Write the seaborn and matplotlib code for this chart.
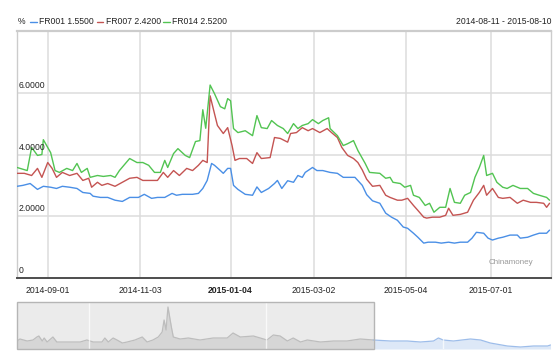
import numpy as np
import pandas as pd
import matplotlib
matplotlib.use('Agg')
import matplotlib.pyplot as plt
import matplotlib.dates as mdates
from matplotlib.lines import Line2D
from matplotlib.patches import Rectangle
import seaborn as sns

# --- data ---
start = pd.Timestamp('2014-08-11')
end = pd.Timestamp('2015-08-10')

# days since 2014-08-11
fr001_day = [0, 4, 9, 14, 18, 23, 27, 31, 36, 41, 45, 50, 52, 57, 62, 67, 72, 77, 83, 87,
             92, 96, 101, 106, 109, 113, 120, 124, 127, 130, 133, 135, 139, 141, 144, 146, 148, 151, 156, 161,
             164, 167, 172, 176, 178, 181, 185, 189, 192, 195, 197, 202, 205, 209, 214, 219, 223, 228, 231, 236,
             239, 243, 248, 252, 256, 260, 264, 267, 271, 274, 278, 281, 286, 290, 295, 299, 303, 308, 311, 314,
             319, 322, 325, 329, 332, 337, 342, 344, 349, 353, 357, 362, 364]
fr001_val = [2.97, 3.0, 3.06, 2.87, 2.97, 2.94, 2.90, 2.97, 2.94, 2.90, 2.77, 2.74, 2.65, 2.61, 2.61, 2.52, 2.48, 2.61, 2.61, 2.71,
             2.58, 2.61, 2.61, 2.74, 2.68, 2.71, 2.71, 2.74, 2.90, 3.16, 3.71, 3.65, 3.48, 3.39, 3.55, 3.55, 3.0, 2.87, 2.71, 2.68,
             2.95, 2.77, 2.90, 3.06, 3.16, 2.90, 3.15, 3.10, 3.32, 3.26, 3.42, 3.58, 3.48, 3.48, 3.42, 3.39, 3.26, 3.26, 3.26, 3.0,
             2.70, 2.50, 2.42, 2.10, 1.97, 1.87, 1.65, 1.61, 1.45, 1.32, 1.13, 1.16, 1.16, 1.13, 1.16, 1.13, 1.16, 1.16, 1.29, 1.48,
             1.45, 1.29, 1.23, 1.29, 1.32, 1.39, 1.39, 1.29, 1.32, 1.39, 1.45, 1.45, 1.55]

fr007_day = [0, 5, 10, 14, 17, 21, 24, 27, 31, 36, 41, 45, 49, 51, 55, 58, 62, 67, 72, 77,
             82, 86, 91, 96, 100, 103, 107, 111, 116, 120, 124, 127, 130, 132, 135, 137, 141, 144, 147, 149,
             152, 157, 161, 164, 167, 173, 176, 180, 185, 187, 191, 195, 199, 202, 207, 212, 215, 219, 222, 226,
             230, 233, 236, 239, 243, 248, 252, 255, 260, 263, 267, 271, 274, 278, 280, 284, 289, 293, 295, 298,
             303, 308, 312, 316, 319, 321, 325, 329, 332, 337, 342, 346, 351, 355, 360, 362, 364]
fr007_val = [3.39, 3.39, 3.32, 3.55, 3.26, 3.74, 3.55, 3.26, 3.42, 3.32, 3.39, 3.16, 3.23, 2.94, 3.10, 3.0, 3.06, 2.97, 3.10, 3.23,
             3.26, 3.16, 3.16, 3.16, 3.42, 3.26, 3.48, 3.32, 3.55, 3.48, 3.65, 3.81, 3.74, 5.90, 5.32, 4.94, 4.68, 4.87, 4.29, 3.81,
             3.87, 3.87, 3.71, 4.06, 3.87, 3.90, 4.55, 4.52, 4.40, 4.68, 4.71, 4.87, 4.77, 4.84, 4.71, 4.84, 4.71, 4.55, 4.23, 3.97,
             3.87, 3.74, 3.50, 3.20, 2.97, 3.0, 2.68, 2.61, 2.52, 2.52, 2.58, 2.35, 2.19, 1.97, 1.94, 1.97, 1.97, 2.03, 2.26, 2.03,
             2.06, 2.13, 2.52, 2.77, 3.0, 2.68, 2.90, 2.61, 2.58, 2.61, 2.42, 2.52, 2.45, 2.45, 2.42, 2.29, 2.42]

fr014_day = [0, 7, 10, 14, 17, 18, 23, 26, 29, 34, 38, 41, 44, 48, 50, 55, 59, 64, 67, 70,
             77, 82, 86, 90, 94, 98, 101, 103, 107, 110, 115, 118, 122, 125, 127, 129, 132, 135, 139, 142,
             144, 146, 148, 151, 156, 161, 164, 167, 171, 174, 178, 182, 185, 189, 192, 195, 199, 202, 206, 209,
             213, 214, 219, 223, 226, 230, 233, 238, 241, 248, 252, 255, 257, 262, 265, 269, 271, 275, 279, 282,
             285, 289, 293, 296, 299, 303, 306, 310, 313, 316, 319, 321, 325, 328, 332, 335, 339, 344, 349, 353,
             357, 362, 364]
fr014_val = [3.58, 3.48, 4.23, 3.97, 4.0, 4.48, 4.06, 3.48, 3.42, 3.55, 3.48, 3.71, 3.42, 3.55, 3.26, 3.32, 3.29, 3.32, 3.26, 3.48,
             3.87, 3.74, 3.74, 3.65, 3.42, 3.42, 3.81, 3.58, 4.03, 4.19, 3.97, 3.9, 4.42, 4.45, 5.45, 4.85, 6.25, 5.97, 5.55, 5.48,
             5.81, 5.74, 4.84, 4.71, 4.77, 4.61, 5.26, 4.87, 4.84, 5.1, 4.94, 4.84, 4.68, 5.0, 4.84, 4.94, 5.0, 5.13, 5.0, 5.1,
             5.19, 4.84, 4.61, 4.29, 4.35, 4.45, 4.13, 3.71, 3.42, 3.39, 3.23, 3.26, 3.10, 3.06, 2.94, 3.0, 2.68, 2.61, 2.35, 2.42,
             2.13, 2.29, 2.29, 2.90, 2.45, 2.42, 2.68, 2.77, 3.26, 3.58, 3.97, 3.32, 3.39, 3.10, 2.94, 2.90, 3.0, 2.90, 2.90, 2.74,
             2.68, 2.61, 2.52]

# navigator series (longer history), days since 2012-08-06
nav_start = pd.Timestamp('2012-08-06')
nav_day = [0, 6, 21, 33, 41, 45, 52, 56, 62, 74, 82, 103, 130, 144, 157, 175, 181, 188, 198, 206,
           217, 227, 243, 258, 268, 280, 291, 299, 303, 307, 311, 318, 322, 336, 353, 377, 404, 433, 445, 460,
           487, 515, 528, 542, 557, 569, 584, 598, 625, 652, 680, 707, 734, 769, 804, 831, 858, 868, 878, 899,
           934, 955, 975, 1010, 1037, 1064, 1093, 1099]
nav_val = [3.2, 3.8, 3.2, 3.5, 4.4, 4.7, 3.2, 4.1, 2.9, 4.4, 2.9, 2.9, 2.9, 3.5, 2.9, 2.9, 4.1, 2.9, 4.1, 3.5,
           2.6, 2.9, 3.5, 4.4, 2.9, 3.5, 4.4, 5.9, 9.5, 6.5, 13.4, 7.4, 4.4, 3.8, 4.1, 3.5, 4.1, 4.1, 5.6, 4.4,
           4.7, 3.5, 5.0, 4.7, 3.2, 4.1, 2.9, 3.5, 2.9, 3.2, 3.2, 3.8, 3.5, 3.2, 3.2, 2.9, 3.2, 4.1, 3.5, 3.2,
           3.8, 3.5, 2.6, 1.7, 1.4, 1.7, 1.7, 2.0]
nav_years = ['2013-01-01', '2014-01-01', '2015-01-01']

series_names = ['FR001', 'FR007', 'FR014']
last_vals = ['1.5500', '2.4200', '2.5200']
colors = ['#4a8fe6', '#c45452', '#52c452']
tick_dates = ['2014-09-01', '2014-11-03', '2015-01-04', '2015-03-02', '2015-05-04', '2015-07-01']
ytick_vals = [0, 2, 4, 6]
ytick_labels = ['0', '2.0000', '4.0000', '6.0000']

# --- build frames ---
frames = []
for name, d, v in zip(series_names, [fr001_day, fr007_day, fr014_day], [fr001_val, fr007_val, fr014_val]):
    frames.append(pd.DataFrame({'date': start + pd.to_timedelta(d, unit='D'), 'rate': v, 'series': name}))
df = pd.concat(frames, ignore_index=True)

nav = pd.DataFrame({'date': nav_start + pd.to_timedelta(nav_day, unit='D'), 'rate': nav_val})

# --- style ---
sns.set_theme(style='white')
plt.rcParams['font.family'] = ['Liberation Sans', 'DejaVu Sans']
W, H = 560, 360
FS = 6.2
fig = plt.figure(figsize=(5.6, 3.6), dpi=100)
fig.patch.set_facecolor('white')

def fx(px):
    return px / W

def fy(py):
    return 1 - py / H

# --- main chart ---
ax = fig.add_axes([fx(17), fy(278), fx(534), 247 / H])
sns.lineplot(data=df, x='date', y='rate', hue='series', palette=dict(zip(series_names, colors)),
             estimator=None, legend=False, lw=1.0, ax=ax, zorder=3)
ax.set_xlim(start, start + pd.Timedelta(days=365))
ax.set_ylim(0, 8)
ax.set_xlabel('')
ax.set_ylabel('')
ax.set_yticks([2, 4, 6])
ax.set_yticklabels([])
ax.set_xticks(pd.to_datetime(tick_dates))
ax.set_xticklabels(tick_dates, fontsize=FS, color='#222222')
for lbl in ax.get_xticklabels():
    if lbl.get_text() == '2015-01-04':
        lbl.set_fontweight('bold')
ax.tick_params(axis='both', length=0)
ax.tick_params(axis='x', pad=6)
ax.grid(True, color='#dcdcdc', lw=1.1)
ax.set_axisbelow(True)
for side in ['top', 'left', 'right']:
    ax.spines[side].set_color('#cccccc')
    ax.spines[side].set_linewidth(1.0)
ax.spines['top'].set_linewidth(1.6)
ax.spines['bottom'].set_color('#4d4d4d')
ax.spines['bottom'].set_linewidth(1.4)

for v, t in zip(ytick_vals, ytick_labels):
    ax.annotate(t, xy=(0, v), xycoords=('axes fraction', 'data'), xytext=(2, 3),
                textcoords='offset pixels', ha='left', va='bottom', fontsize=FS, color='#222222')

ax.text((533 - 17) / 534, (278 - 262) / 247, 'Chinamoney', transform=ax.transAxes,
        ha='right', va='center', fontsize=5.8, color='#9a9a9a')

# --- header / legend ---
fig.text(fx(18), fy(22), '%', ha='left', va='center', fontsize=FS, color='#222222')
for (x0, x1, tx), name, lv, c in zip([(30, 37, 39), (97, 103, 106), (163, 170, 172)], series_names, last_vals, colors):
    fig.add_artist(Line2D([fx(x0), fx(x1)], [fy(22), fy(22)], transform=fig.transFigure, color=c, lw=1.0))
    fig.text(fx(tx), fy(22), f'{name} {lv}', ha='left', va='center', fontsize=FS, color='#222222')
fig.text(fx(551), fy(22), '2014-08-11 - 2015-08-10', ha='right', va='center', fontsize=FS, color='#222222')

# --- navigator ---
axn = fig.add_axes([fx(17), fy(349), fx(534), 47 / H])
nav_lo = 0.8
axn.set_xlim(nav_start, nav_start + pd.Timedelta(days=1100))
axn.set_ylim(nav_lo, 14.9)
axn.axvspan(nav_start, start, color='#ebebeb', lw=0, zorder=0)

left = nav[nav['date'] <= start]
right = nav[nav['date'] >= nav_start + pd.Timedelta(days=734)]
axn.fill_between(left['date'], left['rate'], nav_lo, color='#d6d6d6', lw=0, zorder=1)
axn.fill_between(right['date'], right['rate'], nav_lo, color='#dde8f7', lw=0, zorder=1)
sns.lineplot(data=left, x='date', y='rate', color='#bdbdbd', lw=0.9, ax=axn, zorder=2)
sns.lineplot(data=right, x='date', y='rate', color='#9dbdea', lw=0.9, ax=axn, zorder=2)
for yr in nav_years:
    axn.axvline(pd.Timestamp(yr), color='white', lw=1.0, alpha=0.7, zorder=3)

x0 = mdates.date2num(nav_start)
x1 = mdates.date2num(start)
axn.add_patch(Rectangle((x0, nav_lo), x1 - x0, 14.9 - nav_lo, fill=False,
                        edgecolor='#b5b5b5', lw=1.0, zorder=4, clip_on=False))
axn.set_xticks([])
axn.set_yticks([])
axn.set_xlabel('')
axn.set_ylabel('')
for s in axn.spines.values():
    s.set_visible(False)

plt.savefig('out.png', dpi=100, facecolor='white')
